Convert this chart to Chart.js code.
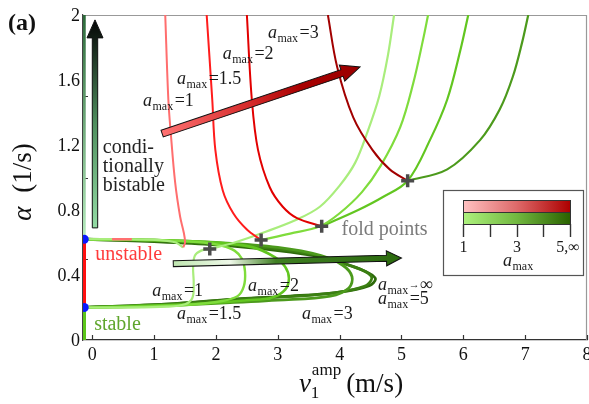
<!DOCTYPE html>
<html>
<head>
<meta charset="utf-8">
<script src="https://cdn.jsdelivr.net/npm/chart.js@4.4.1/dist/chart.umd.min.js"></script>
<style>
  html, body { margin: 0; padding: 0; background: #fff; }
</style>
</head>
<body>
<canvas id="c" width="589" height="404"></canvas>
<script>
const FONT = '"Liberation Serif", "DejaVu Serif", serif';

const xTicks = [0, 1, 2, 3, 4, 5, 6, 7, 8];
const yTicks = [0, 0.4, 0.8, 1.2, 1.6, 2];
const yMinorTicks = [0.5, 1, 1.5];

// v1 = 0 line, split by stability
const axisStable   = [[-0.13, 0], [-0.13, 0.2]];
const axisUnstable = [[-0.13, 0.2], [-0.13, 0.62]];
const axisBistable = [[-0.13, 0.62], [-0.13, 2]];
const bifPoints    = [[-0.13, 0.2], [-0.13, 0.62]];

// unstable branches (red), a_max = 1, 1.5, 2, 3
const redA1  = [[1.18, 2], [1.23, 1.48], [1.27, 1.27], [1.34, 0.97], [1.42, 0.76], [1.48, 0.66], [1.50, 0.60], [1.47, 0.57]];
const redA15 = [[1.85, 2], [1.94, 1.48], [1.99, 1.17], [2.11, 0.92], [2.28, 0.78], [2.50, 0.68], [2.73, 0.615]];
const redA2  = [[2.50, 2], [2.58, 1.48], [2.68, 1.17], [2.87, 0.94], [3.08, 0.82], [3.31, 0.75], [3.71, 0.70]];
const redA3  = [[3.81, 2], [3.96, 1.68], [4.22, 1.37], [4.53, 1.17], [4.81, 1.05], [5.10, 0.98]];
const pinkA1 = [[0.32, 0.62], [0.64, 0.62]];

// upper stable branches (green), starting at the fold points
const upA1  = [[1.90, 0.56], [2.30, 0.60], [2.76, 0.66], [3.30, 0.74], [3.68, 0.82], [4.00, 0.95], [4.25, 1.09], [4.45, 1.28], [4.64, 1.50], [4.78, 1.75], [4.88, 2]];
const upA15 = [[2.73, 0.615], [3.20, 0.655], [3.68, 0.70], [4.00, 0.78], [4.36, 0.91], [4.66, 1.07], [4.98, 1.31], [5.19, 1.58], [5.35, 1.85], [5.43, 2]];
const upA2  = [[3.71, 0.70], [4.30, 0.80], [4.70, 0.88], [5.10, 0.98], [5.46, 1.23], [5.74, 1.48], [5.95, 1.78], [6.08, 2]];
const upA3  = [[5.10, 0.98], [5.74, 1.05], [6.27, 1.23], [6.59, 1.42], [6.80, 1.62], [6.95, 1.83], [7.05, 2]];

// lower branches
const topA1   = [[-0.13, 0.62], [0.6, 0.62], [1.1, 0.615], [1.35, 0.60], [1.47, 0.57]];
const lowA1   = [[-0.13, 0.2], [0.5, 0.2], [1.2, 0.205], [1.5, 0.22], [1.62, 0.26], [1.64, 0.35], [1.63, 0.45], [1.66, 0.52], [1.76, 0.55], [1.90, 0.56]];
const loopA15 = [[-0.13, 0.62], [1, 0.615], [1.8, 0.60], [2.1, 0.58], [2.3, 0.55], [2.42, 0.50], [2.47, 0.42], [2.45, 0.33], [2.35, 0.27], [2.1, 0.24], [1.5, 0.215], [0.8, 0.205], [-0.13, 0.2]];
const loopA2  = [[-0.13, 0.62], [1, 0.615], [2, 0.60], [2.6, 0.57], [2.95, 0.51], [3.12, 0.45], [3.18, 0.38], [3.12, 0.31], [2.9, 0.26], [2.5, 0.245], [1.8, 0.225], [0.8, 0.21], [-0.13, 0.2]];
const loopA3  = [[-0.13, 0.62], [1, 0.615], [2, 0.60], [3, 0.57], [3.7, 0.52], [4.05, 0.46], [4.2, 0.39], [4.15, 0.32], [3.85, 0.27], [3, 0.245], [2, 0.225], [1, 0.21], [-0.13, 0.2]];
const loopA5  = [[-0.13, 0.62], [1, 0.61], [2, 0.59], [3, 0.56], [3.65, 0.52], [4.15, 0.46], [4.42, 0.42], [4.52, 0.38], [4.40, 0.33], [3.9, 0.29], [3.1, 0.265], [2.3, 0.25], [1.2, 0.22], [-0.13, 0.2]];
const loopInf = [[-0.13, 0.62], [1, 0.605], [2, 0.585], [3, 0.55], [3.7, 0.51], [4.2, 0.455], [4.48, 0.41], [4.58, 0.375], [4.48, 0.335], [4.0, 0.295], [3.2, 0.27], [2.4, 0.255], [1.2, 0.22], [-0.13, 0.2]];

const foldPoints = [[1.90, 0.56], [2.73, 0.615], [3.71, 0.70], [5.10, 0.98]];

const pts = arr => arr.map(p => ({ x: p[0], y: p[1] }));

function curve(label, arr, color, width, order) {
  return {
    label, data: pts(arr),
    borderColor: color, borderWidth: width,
    pointRadius: 0, tension: 0.35, fill: false, order
  };
}

const bistableColor = (context) => {
  const chart = context.chart;
  if (!chart.chartArea) return '#8fd39a';
  const ys = chart.scales.y;
  const g = chart.ctx.createLinearGradient(0, ys.getPixelForValue(0.62), 0, ys.getPixelForValue(2));
  g.addColorStop(0, '#b6ebbd');
  g.addColorStop(1, '#2c6a3a');
  return g;
};

function arrow(c, x0, y0, x1, y1, sw, hl, hw, stops) {
  const L = Math.hypot(x1 - x0, y1 - y0);
  const ang = Math.atan2(y1 - y0, x1 - x0);
  c.save();
  c.translate(x0, y0);
  c.rotate(ang);
  c.beginPath();
  c.moveTo(0, -sw);
  c.lineTo(L - hl, -sw);
  c.lineTo(L - hl, -hw);
  c.lineTo(L, 0);
  c.lineTo(L - hl, hw);
  c.lineTo(L - hl, sw);
  c.lineTo(0, sw);
  c.closePath();
  const g = c.createLinearGradient(0, 0, L, 0);
  stops.forEach(s => g.addColorStop(s[0], s[1]));
  c.fillStyle = g;
  c.fill();
  c.strokeStyle = '#111';
  c.lineWidth = 1;
  c.stroke();
  c.restore();
}

function amax(c, x, y, tail, infinity) {
  c.textAlign = 'left';
  c.textBaseline = 'alphabetic';
  c.font = 'italic 18px ' + FONT;
  c.fillText('a', x, y);
  x += c.measureText('a').width + 0.5;
  c.font = '12px ' + FONT;
  c.fillText('max', x, y + 4);
  x += c.measureText('max').width + 0.5;
  if (infinity) {
    c.font = '11px ' + FONT;
    c.fillText('\u2192', x, y - 2);
    x += c.measureText('\u2192').width;
    c.font = '18px ' + FONT;
    c.fillText('\u221e', x, y);
  } else if (tail) {
    c.font = '18px ' + FONT;
    c.fillText('=' + tail, x + 1, y);
  }
  return x;
}

// a_max labels: [x, y (baseline), value]
const amaxLabels = [
  [0.82, 1.44, '1'], [1.37, 1.575, '1.5'], [2.11, 1.73, '2'], [2.84, 1.86, '3'],
  [0.97, 0.27, '1'], [1.37, 0.13, '1.5'], [2.52, 0.30, '2'], [3.39, 0.13, '3'],
  [4.62, 0.22, '5']
];

const overlay = {
  id: 'overlay',
  beforeDatasetsDraw(chart) {
    const c = chart.ctx, a = chart.chartArea;
    const xs = chart.scales.x, ys = chart.scales.y;
    c.save();
    c.strokeStyle = '#999';
    c.lineWidth = 1.2;
    c.beginPath();
    c.moveTo(a.left, a.top + 0.5);
    c.lineTo(a.right - 0.5, a.top + 0.5);
    c.lineTo(a.right - 0.5, a.bottom);
    c.stroke();
    // inward ticks
    c.strokeStyle = '#333';
    c.lineWidth = 1.2;
    c.beginPath();
    xTicks.forEach(v => {
      const px = Math.round(xs.getPixelForValue(v)) + 0.5;
      c.moveTo(px, a.bottom);
      c.lineTo(px, a.bottom - 5);
    });
    yMinorTicks.forEach(v => {
      const py = Math.round(ys.getPixelForValue(v)) + 0.5;
      c.moveTo(a.left, py);
      c.lineTo(a.left + 5, py);
    });
    c.stroke();
    // tick labels
    c.fillStyle = '#111';
    c.font = '18px ' + FONT;
    c.textAlign = 'center';
    c.textBaseline = 'alphabetic';
    xTicks.forEach(v => c.fillText(String(v), xs.getPixelForValue(v), 360));
    c.textAlign = 'right';
    c.textBaseline = 'middle';
    yTicks.forEach(v => c.fillText(String(v), a.left - 3, ys.getPixelForValue(v) + 1));
    c.restore();
  },
  afterDatasetsDraw(chart) {
    const c = chart.ctx;
    const xs = chart.scales.x, ys = chart.scales.y;
    const X = v => xs.getPixelForValue(v), Y = v => ys.getPixelForValue(v);
    c.save();

    // arrows
    arrow(c, X(1.13), Y(1.27), X(4.33), Y(1.68), 3.5, 19, 8.5,
      [[0, '#ff7272'], [0.45, '#d42a2a'], [0.7, '#a80000'], [1, '#9a0000']]);
    arrow(c, X(1.31), Y(0.47), X(5.0), Y(0.505), 3, 15, 7.5,
      [[0, '#bfe6b0'], [0.25, '#eef8e8'], [0.45, '#3f7f22'], [1, '#2b6a0e']]);
    arrow(c, X(0.044), Y(0.69), X(0.044), Y(1.97), 2.7, 18, 8,
      [[0, '#93dba4'], [0.5, '#4f8f5e'], [1, '#050505']]);

    // a_max labels
    c.fillStyle = '#1a1a1a';
    amaxLabels.forEach(l => amax(c, X(l[0]), Y(l[1]), l[2], false));
    amax(c, X(4.62), Y(0.31), null, true);

    // region texts
    c.font = '20px ' + FONT;
    c.textAlign = 'left';
    c.textBaseline = 'alphabetic';
    c.fillStyle = '#222';
    c.fillText('condi-', X(0.17), Y(1.15));
    c.fillText('tionally', X(0.17), Y(1.034));
    c.fillText('bistable', X(0.17), Y(0.917));
    c.fillStyle = '#ff3b3b';
    c.fillText('unstable', X(0.05), Y(0.49));
    c.fillStyle = '#5fa52c';
    c.fillText('stable', X(0.03), Y(0.06));
    c.fillStyle = '#7a7a7a';
    c.fillText('fold points', X(4.03), Y(0.646));

    // colour bar legend
    const bx = 443, by = 190, bw = 140, bh = 85;
    c.fillStyle = '#fff';
    c.fillRect(bx, by, bw, bh);
    c.strokeStyle = '#555';
    c.lineWidth = 1.2;
    c.strokeRect(bx + 0.5, by + 0.5, bw, bh);
    const x0 = 463, x1 = 570;
    const gr = c.createLinearGradient(x0, 0, x1, 0);
    gr.addColorStop(0, '#ffc2c2');
    gr.addColorStop(0.5, '#de6a6a');
    gr.addColorStop(1, '#ad0000');
    c.fillStyle = gr;
    c.fillRect(x0, 200, x1 - x0, 12);
    const gg = c.createLinearGradient(x0, 0, x1, 0);
    gg.addColorStop(0, '#aef27e');
    gg.addColorStop(0.5, '#72b840');
    gg.addColorStop(1, '#2a6200');
    c.fillStyle = gg;
    c.fillRect(x0, 212, x1 - x0, 12);
    c.strokeStyle = '#333';
    c.lineWidth = 1;
    c.strokeRect(x0 + 0.5, 200.5, x1 - x0, 12);
    c.strokeRect(x0 + 0.5, 212.5, x1 - x0, 12);
    c.lineWidth = 1.4;
    c.beginPath();
    for (let i = 0; i < 5; i++) {
      const px = Math.round(x0 + i * (x1 - x0) / 4) + 0.5;
      c.moveTo(px, 224);
      c.lineTo(px, 237);
    }
    c.stroke();
    c.fillStyle = '#1a1a1a';
    c.font = '16px ' + FONT;
    c.textAlign = 'center';
    c.fillText('1', x0 + 0.5, 252);
    c.fillText('3', (x0 + x1) / 2 + 0.5, 252);
    c.fillText('5,\u221e', x1 - 2, 252);
    c.textAlign = 'left';
    amax(c, 503, 266, null, false);

    // titles
    c.fillStyle = '#111';
    c.font = 'bold 24px ' + FONT;
    c.fillText('(a)', 8, 30);

    // x title
    c.font = 'italic 27px ' + FONT;
    const wv = c.measureText('v').width;
    c.font = '17px ' + FONT;
    const wamp = c.measureText('amp').width;
    c.font = '27px ' + FONT;
    const wunit = c.measureText('(m/s)').width;
    let tx = 351 - (wv + wamp + 6 + wunit) / 2;
    c.font = 'italic 27px ' + FONT;
    c.fillText('v', tx, 392);
    c.font = '17px ' + FONT;
    c.fillText('1', tx + wv, 398);
    c.fillText('amp', tx + wv + 1, 375);
    c.font = '27px ' + FONT;
    c.fillText('(m/s)', tx + wv + wamp + 6, 392);

    // y title
    c.save();
    c.translate(31, 182);
    c.rotate(-Math.PI / 2);
    c.font = 'italic 27px ' + FONT;
    const wa = c.measureText('\u03b1').width;
    c.font = '27px ' + FONT;
    const wu = c.measureText('(1/s)').width;
    const start = -(wa + 14 + wu) / 2;
    c.font = 'italic 27px ' + FONT;
    c.fillText('\u03b1', start, 0);
    c.font = '27px ' + FONT;
    c.fillText('(1/s)', start + wa + 14, 0);
    c.restore();

    c.restore();
  }
};

const green = { a1: '#a9ed7c', a15: '#7fdc3c', a2: '#62c620', a3: '#4c9a1c', a5: '#3b7f12', inf: '#2d6a0a' };
const red = { a1: '#ff6e6e', a15: '#ff1c1c', a2: '#e20000', a3: '#a20000' };

new Chart(document.getElementById('c'), {
  type: 'line',
  data: {
    datasets: [
      { label: 'fold', data: pts(foldPoints), showLine: false, pointStyle: 'cross',
        pointRadius: 6.5, borderWidth: 3.5, borderColor: '#4b4b4b', order: 0 },
      { label: 'bif', data: pts(bifPoints), showLine: false, pointRadius: 4.5,
        backgroundColor: '#0a18ff', borderWidth: 0, order: 1 },
      curve('axis stable', axisStable, '#5cc61a', 3.5, 2),
      curve('axis unstable', axisUnstable, '#ff1010', 3.5, 2),
      { ...curve('axis bistable', axisBistable, '#8fd39a', 3, 2), borderColor: bistableColor },
      curve('pink a1', pinkA1, '#ff7070', 2.5, 3),
      curve('red a1', redA1, red.a1, 2, 4),
      curve('red a1.5', redA15, red.a15, 2, 4),
      curve('red a2', redA2, red.a2, 2, 4),
      curve('red a3', redA3, red.a3, 2, 4),
      curve('up a1', upA1, green.a1, 2.2, 5),
      curve('up a1.5', upA15, green.a15, 2.2, 5),
      curve('up a2', upA2, green.a2, 2.2, 5),
      curve('up a3', upA3, green.a3, 2.2, 5),
      curve('top a1', topA1, green.a1, 2.2, 6),
      curve('low a1', lowA1, green.a1, 2.2, 6),
      curve('loop a1.5', loopA15, green.a15, 2.4, 7),
      curve('loop a2', loopA2, green.a2, 2.6, 8),
      curve('loop a3', loopA3, green.a3, 2.8, 9),
      curve('loop a5', loopA5, green.a5, 2.8, 10),
      curve('loop inf', loopInf, green.inf, 2.8, 11)
    ]
  },
  options: {
    responsive: false,
    animation: false,
    events: [],
    devicePixelRatio: 1,
    layout: { autoPadding: false, padding: { top: 15, right: 2, left: 0, bottom: 0 } },
    plugins: { legend: { display: false }, tooltip: { enabled: false } },
    scales: {
      x: {
        type: 'linear', min: -0.15, max: 8,
        afterBuildTicks: s => { s.ticks = xTicks.map(v => ({ value: v })); },
        afterFit: s => { s.height = 64; },
        grid: { display: false },
        border: { display: true, color: '#333', width: 1.2 },
        ticks: { display: false }
      },
      y: {
        type: 'linear', min: 0, max: 2,
        afterBuildTicks: s => { s.ticks = yTicks.map(v => ({ value: v })); },
        afterFit: s => { s.width = 83; },
        grid: { display: false },
        border: { display: true, color: '#444', width: 1.2 },
        ticks: { display: false }
      }
    }
  },
  plugins: [overlay]
});
</script>
</body>
</html>
